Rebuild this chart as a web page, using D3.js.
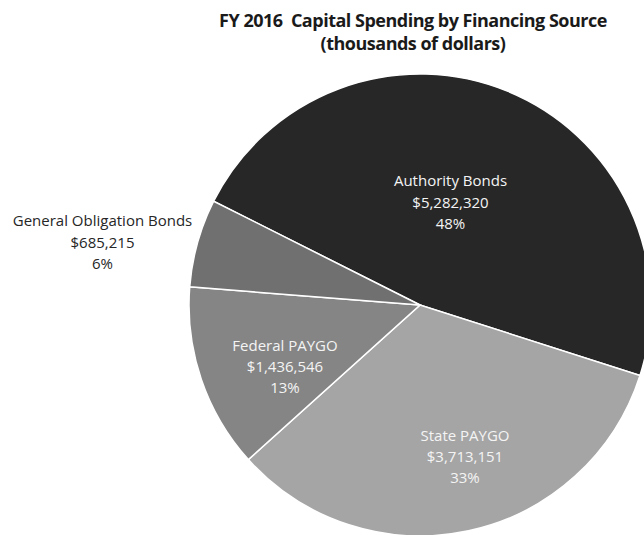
<!DOCTYPE html>
<html>
<head>
<meta charset="utf-8">
<script src="https://cdn.jsdelivr.net/npm/d3@7"></script>
<style>
  body { margin: 0; background: #fff; }
  svg { display: block; font-family: "Open Sans", Lato, sans-serif; }
  text { white-space: pre; }
</style>
</head>
<body>
<svg id="chart" width="644" height="535"></svg>
<script>
const sources = ["Authority Bonds", "State PAYGO", "Federal PAYGO", "General Obligation Bonds"];
const amounts = [5282320, 3713151, 1436546, 685215];
const percents = ["48%", "33%", "13%", "6%"];
const colors = ["#272727", "#a5a5a5", "#858585", "#707070"];
const labelColors = ["#f4f4f4", "#f4f4f4", "#f4f4f4", "#262626"];
// label anchor: offset of the middle line's baseline from the pie centre
const labelAt = [[30.5, -97.5], [45, 157], [-135, 67], [-317.5, -57.5]];

const width = 644, height = 535;
const cx = 420, cy = 305, radius = 231;

const svg = d3.select("#chart");

const titleLines = ["FY 2016  Capital Spending by Financing Source", "(thousands of dollars)"];
titleLines.forEach((ln, k) => {
  svg.append("text")
    .attr("x", 413).attr("y", 27 + k * 23)
    .attr("text-anchor", "middle")
    .attr("font-weight", "bold")
    .attr("font-size", 18)
    .attr("letter-spacing", -0.5)
    .attr("fill", "#1a1a1a")
    .text(ln);
});

const data = sources.map((s, i) => ({ name: s, value: amounts[i], pct: percents[i], i }));

const startAngle = -63.3 * Math.PI / 180;
const pie = d3.pie()
  .sort(null)
  .value(d => d.value)
  .startAngle(startAngle)
  .endAngle(startAngle + 2 * Math.PI);

const arc = d3.arc().innerRadius(0).outerRadius(radius);

const g = svg.append("g").attr("transform", `translate(${cx},${cy})`);

g.selectAll("path")
  .data(pie(data))
  .enter()
  .append("path")
  .attr("d", arc)
  .attr("fill", d => colors[d.data.i])
  .attr("stroke", "#ffffff")
  .attr("stroke-width", 1.5);

const fmt = d3.format(",");

pie(data).forEach(d => {
  const [x, y] = labelAt[d.data.i];
  const t = g.append("text")
    .attr("text-anchor", "middle")
    .attr("font-size", 15)
    .attr("fill", labelColors[d.data.i]);
  const lines = [d.data.name, "$" + fmt(d.data.value), d.data.pct];
  lines.forEach((ln, k) => {
    t.append("tspan")
      .attr("x", x)
      .attr("y", y + (k - 1) * 21.3)
      .text(ln);
  });
});
</script>
</body>
</html>
